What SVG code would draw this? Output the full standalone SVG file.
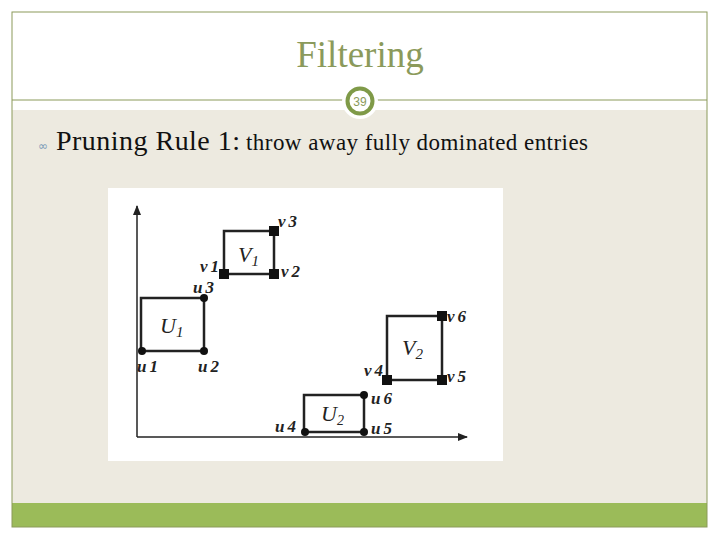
<svg xmlns="http://www.w3.org/2000/svg" width="720" height="540" viewBox="0 0 720 540">
<style>
.lbl{font-family:"Liberation Serif",serif;font-style:italic;font-weight:bold;font-size:17px;fill:#222}
.big{font-family:"Liberation Serif",serif;font-style:italic;font-size:22px;fill:#222}
.box{fill:none;stroke:#222;stroke-width:2.5}
</style>
<defs>
<marker id="ah" markerWidth="10" markerHeight="8" refX="9" refY="4" orient="auto" markerUnits="userSpaceOnUse"><path d="M0,0 L10,4 L0,8 Z" fill="#222"/></marker>
</defs>
<rect width="720" height="540" fill="#fff"/>
<rect x="12" y="110" width="695" height="393" fill="#edeae0"/>
<rect x="12" y="503" width="695" height="24" fill="#9bbb59"/>
<rect x="12" y="12" width="695" height="515" fill="none" stroke="#8b9a5b" stroke-width="1"/>
<line x1="12" y1="100" x2="707" y2="100" stroke="#8b9a5b" stroke-width="1"/>
<g id="title"><text x="360" y="67" text-anchor="middle" font-family="Liberation Serif,serif" font-size="37" fill="#8b9a5b">Filtering</text></g>
<g id="pagenum">
<circle cx="360" cy="101" r="18" fill="#fff"/>
<circle cx="360" cy="101" r="12.5" fill="#fff" stroke="#7f9a48" stroke-width="4"/>
<text x="360" y="106" text-anchor="middle" font-family="Liberation Sans,sans-serif" font-size="12" fill="#8b9a5b">39</text>
</g>
<g id="bullet">
<text x="38" y="150" font-family="DejaVu Sans,sans-serif" font-size="12" fill="#7a9ab8">∞</text>
<text x="56" y="150" font-family="Liberation Serif,serif" font-size="28" fill="#111" textLength="184">Pruning Rule 1:</text>
<text x="246" y="150" font-family="Liberation Serif,serif" font-size="23" fill="#111" textLength="342">throw away fully dominated entries</text>
</g>
<rect x="108" y="188" width="395" height="273" fill="#fff"/>
<g id="connectors">
<line x1="137" y1="437" x2="137" y2="206" stroke="#222" stroke-width="1.5" marker-end="url(#ah)"/>
<line x1="137" y1="437" x2="467" y2="437" stroke="#222" stroke-width="1.5" marker-end="url(#ah)"/>
</g>
<g id="V1">
<rect class="box" x="224" y="231" width="50" height="43"/>
<rect x="219" y="269" width="10" height="10" fill="#111"/>
<rect x="269" y="269" width="10" height="10" fill="#111"/>
<rect x="269" y="226" width="10" height="10" fill="#111"/>
<text class="big" x="238" y="262">V<tspan font-size="15" dy="4">1</tspan></text>
<text class="lbl" x="200" y="272">v<tspan dx="3">1</tspan></text>
<text class="lbl" x="281" y="277">v<tspan dx="3">2</tspan></text>
<text class="lbl" x="278" y="227">v<tspan dx="3">3</tspan></text>
</g>
<g id="U1">
<rect class="box" x="141" y="298" width="63" height="53"/>
<circle cx="142" cy="351" r="4" fill="#111"/>
<circle cx="204" cy="351" r="4" fill="#111"/>
<circle cx="204" cy="298" r="4" fill="#111"/>
<text class="big" x="160" y="333">U<tspan font-size="15" dy="4">1</tspan></text>
<text class="lbl" x="137" y="372">u<tspan dx="3">1</tspan></text>
<text class="lbl" x="198" y="372">u<tspan dx="3">2</tspan></text>
<text class="lbl" x="193" y="293">u<tspan dx="3">3</tspan></text>
</g>
<g id="V2">
<rect class="box" x="387" y="316" width="55" height="64"/>
<rect x="382" y="375" width="10" height="10" fill="#111"/>
<rect x="437" y="375" width="10" height="10" fill="#111"/>
<rect x="437" y="311" width="10" height="10" fill="#111"/>
<text class="big" x="402" y="355">V<tspan font-size="15" dy="4">2</tspan></text>
<text class="lbl" x="364" y="376">v<tspan dx="3">4</tspan></text>
<text class="lbl" x="447" y="382">v<tspan dx="3">5</tspan></text>
<text class="lbl" x="447" y="322">v<tspan dx="3">6</tspan></text>
</g>
<g id="U2">
<rect class="box" x="304" y="395" width="60" height="37" stroke-width="1.8"/>
<circle cx="305" cy="432" r="4" fill="#111"/>
<circle cx="364" cy="432" r="4" fill="#111"/>
<circle cx="364" cy="395" r="4" fill="#111"/>
<text class="big" x="321" y="421" font-size="18">U<tspan font-size="14" dy="4">2</tspan></text>
<text class="lbl" x="275" y="432">u<tspan dx="3">4</tspan></text>
<text class="lbl" x="371" y="434">u<tspan dx="3">5</tspan></text>
<text class="lbl" x="371" y="404">u<tspan dx="3">6</tspan></text>
</g>
</svg>
